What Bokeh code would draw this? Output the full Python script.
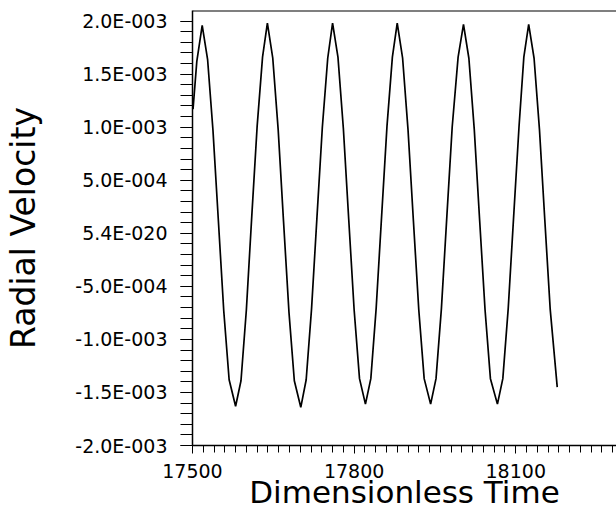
import numpy as np
from bokeh.plotting import figure
from bokeh.models import FixedTicker, CustomJSTickFormatter, Span, Range1d
from bokeh.embed import file_html
from bokeh.resources import INLINE

# Dimensionless time (x) and radial velocity (in units of 1E-003)
time = [17501, 17508, 17518,
        17528, 17538, 17548, 17558, 17568, 17580, 17590, 17600, 17610, 17620, 17630, 17639,
        17649, 17659, 17669, 17679, 17689, 17701, 17711, 17721, 17731, 17741, 17751, 17760,
        17770, 17780, 17790, 17800, 17810, 17821, 17831, 17841, 17851, 17861, 17871, 17880,
        17890, 17900, 17910, 17920, 17930, 17942, 17952, 17962, 17972, 17982, 17993, 18003,
        18013, 18023, 18033, 18043, 18053, 18066, 18076, 18086, 18096, 18106, 18115, 18124,
        18134, 18144, 18154, 18164, 18177]
radial_velocity_e3 = [1.17, 1.62, 1.96,
                      1.64, 0.97, 0.12, -0.73, -1.38, -1.63, -1.39, -0.72, 0.16, 1.01, 1.66, 1.98,
                      1.65, 0.98, 0.11, -0.74, -1.39, -1.64, -1.38, -0.71, 0.15, 1.00, 1.65, 1.98,
                      1.66, 0.99, 0.13, -0.72, -1.37, -1.61, -1.37, -0.70, 0.16, 1.01, 1.66, 1.98,
                      1.65, 0.98, 0.12, -0.72, -1.37, -1.61, -1.37, -0.71, 0.15, 1.00, 1.66, 1.97,
                      1.65, 0.98, 0.12, -0.72, -1.37, -1.61, -1.37, -0.71, 0.15, 1.00, 1.66, 1.97,
                      1.65, 0.98, 0.12, -0.72, -1.45]

x_ticks = [17500, 17800, 18100]
y_ticks = [-2.0e-3, -1.5e-3, -1.0e-3, -5.0e-4, 0.0, 5.0e-4, 1.0e-3, 1.5e-3, 2.0e-3]
y_tick_labels = ["-2.0E-003", "-1.5E-003", "-1.0E-003", "-5.0E-004", "5.4E-020",
                 "5.0E-004", "1.0E-003", "1.5E-003", "2.0E-003"]

FONT = "DejaVu Sans"

p = figure(width=616, height=512, output_backend="svg", toolbar_location=None,
           x_range=Range1d(17500, 18287), y_range=Range1d(-2.0e-3, 2.1e-3),
           min_border_left=192, min_border_right=0, min_border_top=10, min_border_bottom=0)
p.outline_line_color = None
p.grid.visible = False
p.background_fill_color = "white"
p.border_fill_color = "white"

p.line(time, np.array(radial_velocity_e3) * 1e-3, line_color="black", line_width=1.7)

p.add_layout(Span(location=2.1e-3, dimension="width", line_color="black", line_width=2))

xa = p.xaxis[0]
xa.ticker = FixedTicker(ticks=x_ticks, minor_ticks=list(range(17500, 18288, 20)))
xa.axis_line_color = "black"
xa.axis_line_width = 1.5
xa.major_tick_out = 8
xa.major_tick_in = 0
xa.minor_tick_out = 7
xa.minor_tick_in = 0
xa.major_tick_line_color = "black"
xa.minor_tick_line_color = "black"
xa.major_label_text_font = FONT
xa.major_label_text_font_size = "19px"
xa.major_label_text_color = "black"
xa.major_label_standoff = 10
xa.axis_label = "Dimensionless Time"
xa.axis_label_text_font = FONT
xa.axis_label_text_font_size = "31px"
xa.axis_label_text_font_style = "normal"
xa.axis_label_text_color = "black"
xa.axis_label_standoff = -7

ya = p.yaxis[0]
ya.ticker = FixedTicker(ticks=y_ticks, minor_ticks=[i * 1e-4 for i in range(-20, 22)])
ya.formatter = CustomJSTickFormatter(args=dict(labels=y_tick_labels),
                                     code="const i = Math.round(tick / 0.0005) + 4; return labels[i];")
ya.axis_line_color = "black"
ya.axis_line_width = 1.5
ya.major_tick_out = 12
ya.major_tick_in = 0
ya.minor_tick_out = 12
ya.minor_tick_in = 0
ya.major_tick_line_color = "black"
ya.minor_tick_line_color = "black"
ya.major_label_text_font = FONT
ya.major_label_text_font_size = "19px"
ya.major_label_text_color = "black"
ya.major_label_standoff = 13
ya.axis_label = "Radial Velocity"
ya.axis_label_text_font = FONT
ya.axis_label_text_font_size = "33px"
ya.axis_label_text_font_style = "normal"
ya.axis_label_text_color = "black"
ya.axis_label_standoff = 29

open("out.html", "w").write(file_html(p, INLINE))
